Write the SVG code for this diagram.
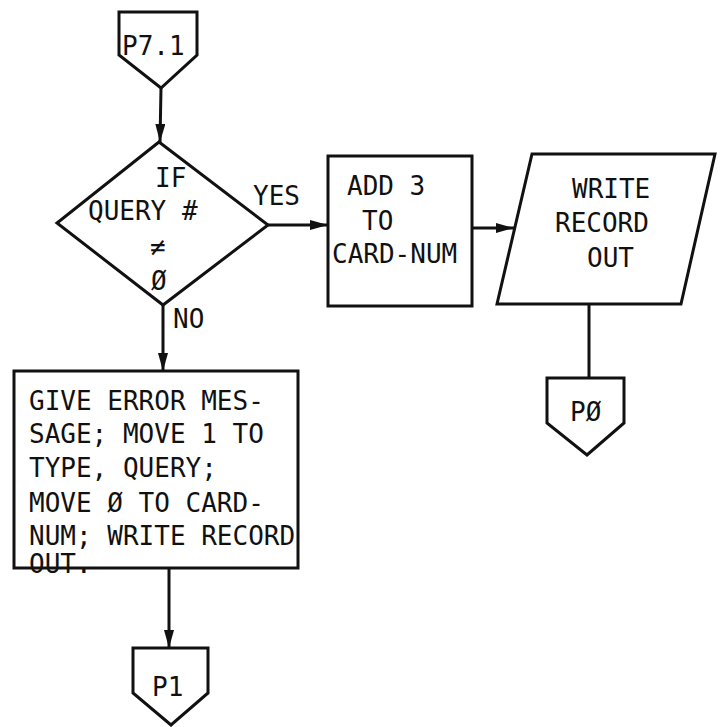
<svg xmlns="http://www.w3.org/2000/svg" width="723" height="727" viewBox="0 0 723 727">
<style>
.s{fill:#fff;stroke:#111;stroke-width:3;stroke-linejoin:miter}
.c{fill:none;stroke:#111;stroke-width:3}
text{font-family:"DejaVu Sans Mono","Liberation Mono",monospace;font-size:26px;fill:#111}
</style>
<defs>
<marker id="ah" viewBox="0 0 18 10" refX="18" refY="5" markerWidth="18" markerHeight="10" markerUnits="userSpaceOnUse" orient="auto">
<path d="M0,0 L18,5 L0,10 Z" fill="#111"/>
</marker>
</defs>
<rect width="723" height="727" fill="#fff"/>
<g id="connectors">
<path class="c" d="M161,88 L160,142" marker-end="url(#ah)"/>
<path class="c" d="M268,225 L328,225" marker-end="url(#ah)"/>
<path class="c" d="M472,228 L514,228" marker-end="url(#ah)"/>
<path class="c" d="M589,304 L589,378"/>
<path class="c" d="M163,305 L163,371" marker-end="url(#ah)"/>
<path class="c" d="M169,568 L169,648" marker-end="url(#ah)"/>
<text x="253" y="205">YES</text>
<text x="173" y="328">NO</text>
</g>
<g id="p71">
<path class="s" d="M119,12 L197,12 L197,55 L161,88 L119,55 Z"/>
<text x="122" y="55">P7.1</text>
</g>
<g id="decision">
<path class="s" d="M159,142 L268,225 L163,305 L57,223 Z"/>
<text x="155" y="187">IF</text>
<text x="88" y="220">QUERY #</text>
<text x="150" y="256">≠</text>
<text x="151" y="290">Ø</text>
</g>
<g id="add3">
<rect class="s" x="328" y="156" width="144" height="150"/>
<text x="347" y="195">ADD 3</text>
<text x="362" y="230">TO</text>
<text x="332" y="263">CARD-NUM</text>
</g>
<g id="write">
<path class="s" d="M532,154 L715,154 L681,304 L497,304 Z"/>
<text x="572" y="198">WRITE</text>
<text x="555" y="232">RECORD</text>
<text x="587" y="267">OUT</text>
</g>
<g id="p0">
<path class="s" d="M547,378 L624,378 L624,423 L587,455 L547,423 Z"/>
<text x="570" y="421">PØ</text>
</g>
<g id="error">
<rect class="s" x="14" y="371" width="284" height="197"/>
<text x="29" y="410">GIVE ERROR MES-</text>
<text x="29" y="443">SAGE; MOVE 1 TO</text>
<text x="29" y="477">TYPE, QUERY;</text>
<text x="29" y="512">MOVE Ø TO CARD-</text>
<text x="29" y="545">NUM; WRITE RECORD</text>
<text x="29" y="573">OUT.</text>
</g>
<g id="p1">
<path class="s" d="M133,648 L208,648 L208,693 L171,725 L133,693 Z"/>
<text x="152" y="696">P1</text>
</g>
</svg>
